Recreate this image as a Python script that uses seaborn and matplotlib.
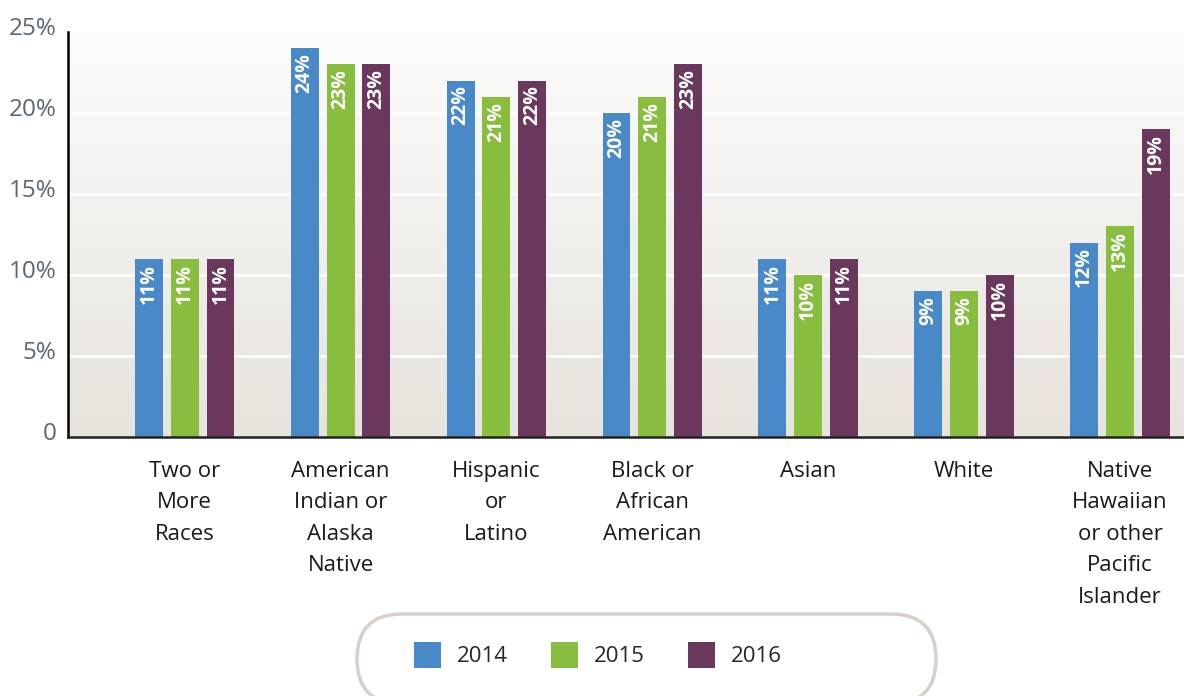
import matplotlib.pyplot as plt
import matplotlib.transforms as mtransforms
from matplotlib.colors import LinearSegmentedColormap
from matplotlib.patches import FancyBboxPatch, Patch
import numpy as np
import pandas as pd
import seaborn as sns

# data
categories = ['Two or\nMore\nRaces', 'American\nIndian or\nAlaska\nNative', 'Hispanic\nor\nLatino',
              'Black or\nAfrican\nAmerican', 'Asian', 'White',
              'Native\nHawaiian\nor other\nPacific\nIslander']
years = ['2014', '2015', '2016']
values_2014 = [11, 24, 22, 20, 11, 9, 12]
values_2015 = [11, 23, 21, 21, 10, 9, 13]
values_2016 = [11, 23, 22, 23, 11, 10, 19]
colors = ['#4a89c8', '#88bd40', '#6b385d']
y_ticks = [0, 5, 10, 15, 20, 25]
y_tick_labels = ['0', '5%', '10%', '15%', '20%', '25%']

# long-format dataframe for seaborn
df = pd.DataFrame({
    'Category': categories * 3,
    'Year': [y for y in years for _ in categories],
    'Value': values_2014 + values_2015 + values_2016,
})

sns.set_style('white')
plt.rcParams['font.family'] = ['Open Sans', 'DejaVu Sans']

fig = plt.figure(figsize=(11.84, 6.96), dpi=100)
ax = fig.add_axes([0.0572, 0.3721, 0.9428, 0.5819])

sns.barplot(data=df, x='Category', y='Value', hue='Year', palette=colors,
            order=categories, hue_order=years, width=0.69, gap=0.22,
            saturation=1, legend=False, linewidth=0, edgecolor='none', ax=ax, zorder=3)

ax.set_xlim(-0.75, 6.41)
ax.set_ylim(0, 25)

# gradient background
bg = LinearSegmentedColormap.from_list('bg', ['#e7e3dd', '#fcfcfb'])
grad = np.linspace(0, 1, 256).reshape(-1, 1)
ax.imshow(grad, cmap=bg, origin='lower', aspect='auto', extent=[-0.75, 6.41, 0, 25], zorder=0)
for y in y_ticks[1:]:
    ax.axhline(y, color='white', lw=1.8, zorder=1)

# value labels inside the bars
for container in ax.containers:
    for bar, val in zip(container, container.datavalues):
        ax.text(bar.get_x() + bar.get_width() / 2, val - 0.3, f'{val:.0f}%',
                rotation=90, ha='center', va='top', color='white',
                fontsize=14, fontweight='bold', zorder=4)

# axes styling
ax.set_yticks(y_ticks)
ax.set_yticklabels(y_tick_labels, fontsize=17.5, color='#5b6770')
ax.tick_params(axis='y', length=0, pad=8)
offset = mtransforms.ScaledTranslation(0, 6 / 100, fig.dpi_scale_trans)
for lbl in ax.get_yticklabels():
    lbl.set_transform(lbl.get_transform() + offset)
ax.set_xticklabels(categories, fontsize=16, color='#1a1a1a', linespacing=1.66, va='top')
ax.tick_params(axis='x', length=0, pad=17)
ax.set_xlabel('')
ax.set_ylabel('')
for side in ['top', 'right']:
    ax.spines[side].set_visible(False)
ax.spines['left'].set_color('black')
ax.spines['left'].set_linewidth(1.8)
ax.spines['bottom'].set_color('#222222')
ax.spines['bottom'].set_linewidth(1.8)
ax.spines['left'].set_zorder(5)
ax.spines['bottom'].set_zorder(5)

# rounded legend box (stadium shape, cut by the figure's lower edge)
box = FancyBboxPatch((3.57, -0.08), 5.79, 0.90,
                     boxstyle='round,pad=0,rounding_size=0.45', transform=fig.dpi_scale_trans,
                     facecolor='white', edgecolor='#d6d0c6', linewidth=2.5)
fig.patches.append(box)
handles = [Patch(facecolor=c, edgecolor='none') for c in colors]
fig.legend(handles, years, loc='center', bbox_to_anchor=(598 / 1184, 1 - 655 / 696),
           ncol=3, frameon=False, fontsize=16, handlelength=1.2, handleheight=1.45,
           handletextpad=0.72, columnspacing=1.95)

plt.savefig('out.png', dpi=100)
